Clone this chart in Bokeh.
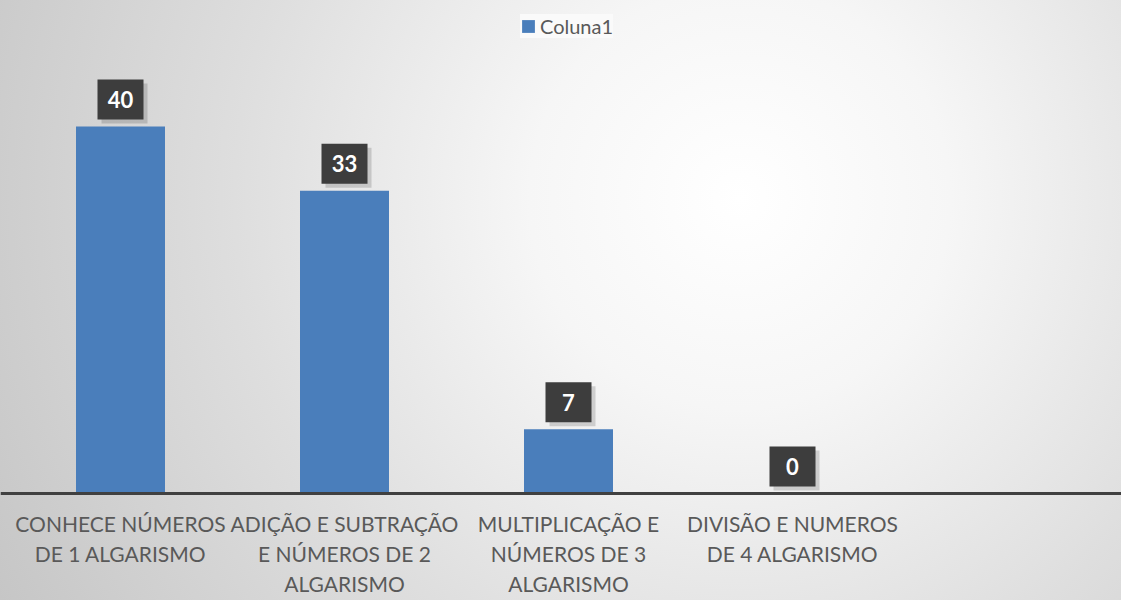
from bokeh.plotting import figure
from bokeh.models import ColumnDataSource, Range1d, Legend, LegendItem, Span
from bokeh.core.properties import value
from bokeh.embed import file_html
from bokeh.resources import INLINE

categories = ["CONHECE NÚMEROS\nDE 1 ALGARISMO",
              "ADIÇÃO E SUBTRAÇÃO\nE NÚMEROS DE 2\nALGARISMO",
              "MULTIPLICAÇÃO E\nNÚMEROS DE 3\nALGARISMO",
              "DIVISÃO E NUMEROS\nDE 4 ALGARISMO"]
values = [40, 33, 7, 0]
series_name = "Coluna1"

W, H = 1121, 600
axis_px = 493
px_per_unit = 9.175
slot_px = 224
first_center_px = 120

xs = list(range(len(categories)))
lab_off = 27 / px_per_unit
cat_off = 17 / px_per_unit
src = ColumnDataSource(dict(
    x=xs, top=values, lbl=[str(v) for v in values], cat=categories,
    cy=[-cat_off] * len(xs),
    ly=[v + lab_off for v in values],
    sx=[x + 4 / slot_px for x in xs],
    sy=[v + lab_off - 4 / px_per_unit for v in values],
))

x0 = -first_center_px / slot_px
p = figure(width=W, height=H, output_backend="svg", toolbar_location=None,
           x_range=Range1d(x0, x0 + W / slot_px),
           y_range=Range1d(-(H - axis_px) / px_per_unit, axis_px / px_per_unit),
           min_border=0)
p.background_fill_color = None
p.border_fill_color = None
p.outline_line_color = None
p.styles = {"background": "radial-gradient(circle at 66% 33%, #ffffff 0%, #f6f6f6 25%, #dedede 60%, #c6c6c6 100%)"}
p.xgrid.visible = False
p.ygrid.visible = False
p.xaxis.visible = False
p.yaxis.visible = False

r = p.vbar(x="x", top="top", width=89 / slot_px, bottom=0, source=src,
           fill_color="#4a7ebb", line_color=None)

p.add_layout(Span(location=0, dimension="width", line_color="#404040", line_width=3))

# data label boxes (shadow + box) and texts
p.rect(x="sx", y="sy", width=46, height=40, width_units="screen", height_units="screen",
       source=src, fill_color="#000000", fill_alpha=0.15, line_color=None)
p.rect(x="x", y="ly", width=46, height=40, width_units="screen", height_units="screen",
       source=src, fill_color="#3d3d3d", line_color=None)
p.text(x="x", y="ly", text="lbl", source=src, text_align="center", text_baseline="middle",
       text_font=value("Lato"), text_font_size="22px", text_font_style="bold",
       text_color="white")

# category labels
p.text(x="x", y="cy", text="cat", source=src, text_align="center", text_baseline="top",
       text_font=value("Lato"), text_font_size="21px", text_color="#595959",
       text_line_height=1.2)

legend = Legend(items=[LegendItem(label=series_name, renderers=[r])],
                location=(520, H - 38), orientation="horizontal",
                background_fill_color="#fafafa", background_fill_alpha=1.0,
                border_line_color=None,
                label_text_font="Lato", label_text_font_size="20px",
                label_text_color="#595959",
                glyph_width=16, glyph_height=16, padding=10, spacing=4,
                label_standoff=4, margin=0)
p.add_layout(legend)

open("out.html", "w").write(file_html(p, INLINE))
